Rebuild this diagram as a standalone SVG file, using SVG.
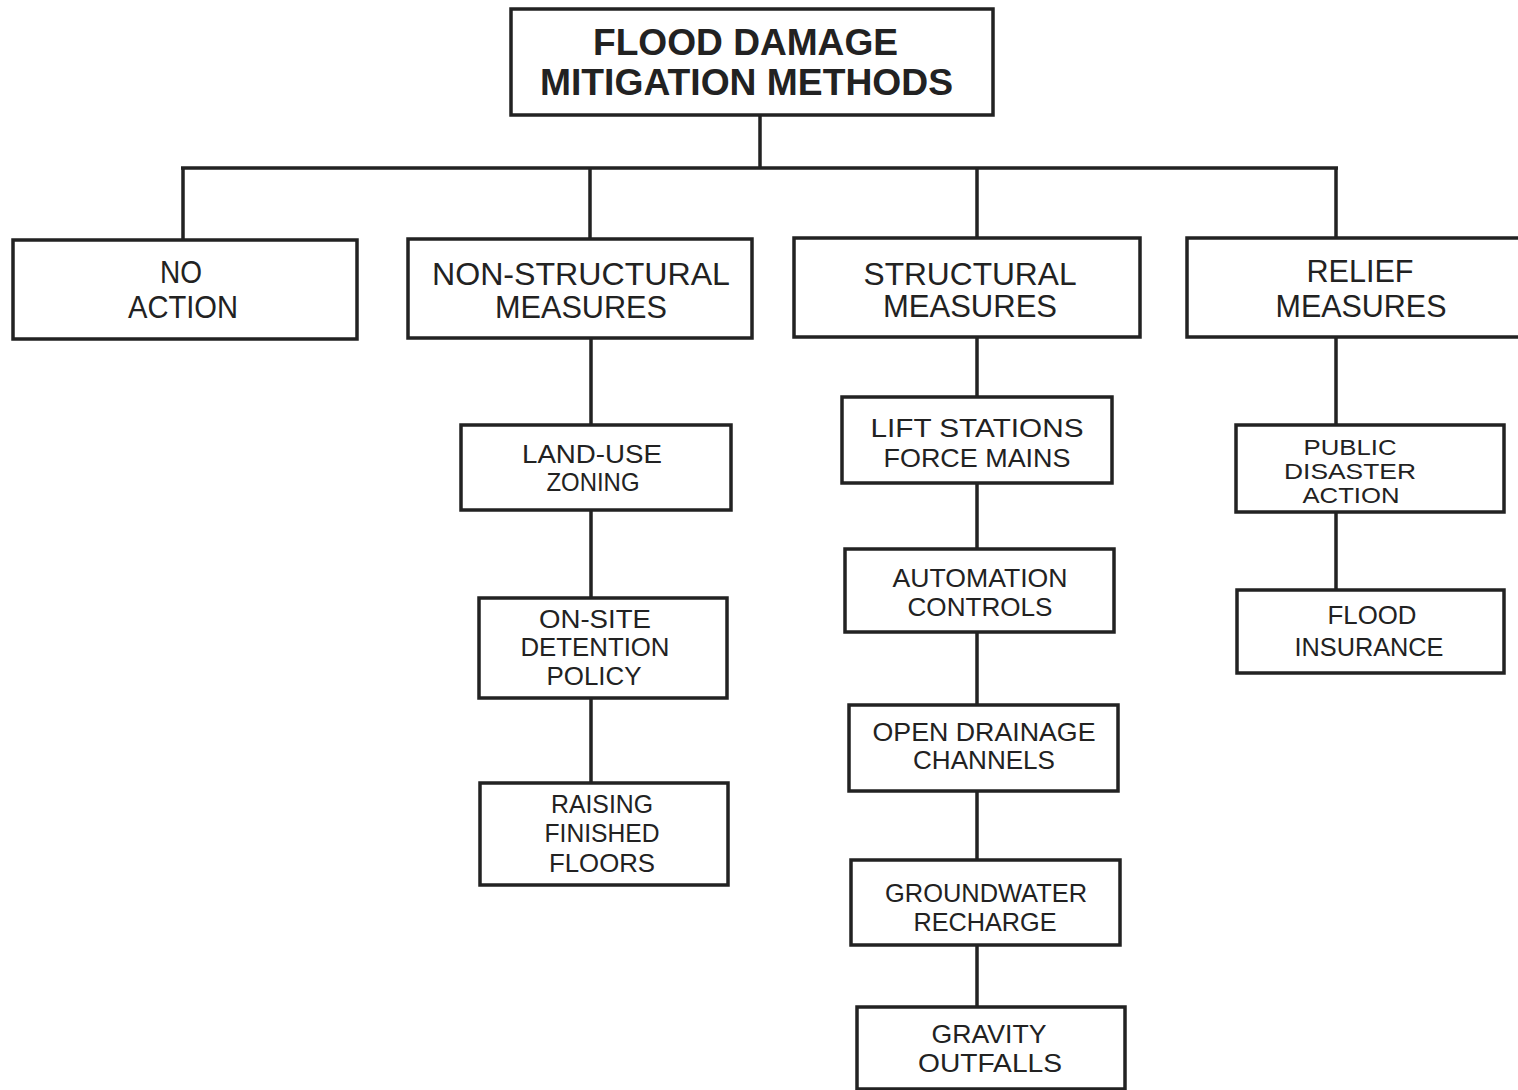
<svg xmlns="http://www.w3.org/2000/svg" width="1518" height="1090" viewBox="0 0 1518 1090">
<style>
.box{fill:#fff;stroke:#222;stroke-width:3.5}
.ln{fill:none;stroke:#222;stroke-width:3.5}
text{font-family:"Liberation Sans",Arial,sans-serif;fill:#222;text-anchor:middle}
.t1{font-size:31px}
.t2{font-size:26.5px}
.t3{font-size:22px}
.tt{font-size:37px;font-weight:bold}
</style>
<rect width="1518" height="1090" fill="#fff"/>
<g id="connectors">
<path class="ln" d="M760 115V168M181 168H1338M183 168V240M590 168V239M977 168V238M1336 168V238"/>
<path class="ln" d="M591 338V425M591 510V598M591 698V783"/>
<path class="ln" d="M977 337V397M977 483V549M977 632V705M977 791V860M977 945V1007"/>
<path class="ln" d="M1336 337V425M1336 500V590"/>
</g>
<g id="title">
<rect class="box" x="511" y="9" width="482" height="106"/>
<text class="tt" x="745.5" y="55" textLength="305" lengthAdjust="spacingAndGlyphs">FLOOD DAMAGE</text>
<text class="tt" x="746.5" y="95" textLength="413" lengthAdjust="spacingAndGlyphs">MITIGATION METHODS</text>
</g>
<g id="no-action">
<rect class="box" x="13" y="240" width="344" height="99"/>
<text class="t1" x="181" y="283" textLength="42" lengthAdjust="spacingAndGlyphs">NO</text>
<text class="t1" x="183" y="318" textLength="110" lengthAdjust="spacingAndGlyphs">ACTION</text>
</g>
<g id="non-structural">
<rect class="box" x="408" y="239" width="344" height="99"/>
<text class="t1" x="581" y="285" textLength="298" lengthAdjust="spacingAndGlyphs">NON-STRUCTURAL</text>
<text class="t1" x="581" y="318" textLength="172" lengthAdjust="spacingAndGlyphs">MEASURES</text>
</g>
<g id="structural">
<rect class="box" x="794" y="238" width="346" height="99"/>
<text class="t1" x="970" y="285" textLength="213" lengthAdjust="spacingAndGlyphs">STRUCTURAL</text>
<text class="t1" x="970" y="317" textLength="174" lengthAdjust="spacingAndGlyphs">MEASURES</text>
</g>
<g id="relief">
<rect class="box" x="1187" y="238" width="340" height="99"/>
<text class="t1" x="1360" y="282" textLength="107" lengthAdjust="spacingAndGlyphs">RELIEF</text>
<text class="t1" x="1361" y="317" textLength="171" lengthAdjust="spacingAndGlyphs">MEASURES</text>
</g>
<g id="land-use">
<rect class="box" x="461" y="425" width="270" height="85"/>
<text class="t2" x="592" y="463" textLength="140" lengthAdjust="spacingAndGlyphs">LAND-USE</text>
<text class="t2" x="593" y="491" textLength="93" lengthAdjust="spacingAndGlyphs">ZONING</text>
</g>
<g id="on-site">
<rect class="box" x="479" y="598" width="248" height="100"/>
<text class="t2" x="595" y="628" textLength="112" lengthAdjust="spacingAndGlyphs">ON-SITE</text>
<text class="t2" x="595" y="656" textLength="149" lengthAdjust="spacingAndGlyphs">DETENTION</text>
<text class="t2" x="594" y="685" textLength="95" lengthAdjust="spacingAndGlyphs">POLICY</text>
</g>
<g id="raising">
<rect class="box" x="480" y="783" width="248" height="102"/>
<text class="t2" x="602" y="813" textLength="102" lengthAdjust="spacingAndGlyphs">RAISING</text>
<text class="t2" x="602" y="842" textLength="115" lengthAdjust="spacingAndGlyphs">FINISHED</text>
<text class="t2" x="602" y="872" textLength="106" lengthAdjust="spacingAndGlyphs">FLOORS</text>
</g>
<g id="lift-stations">
<rect class="box" x="842" y="397" width="270" height="86"/>
<text class="t2" x="977" y="437" textLength="213" lengthAdjust="spacingAndGlyphs">LIFT STATIONS</text>
<text class="t2" x="977" y="467" textLength="187" lengthAdjust="spacingAndGlyphs">FORCE MAINS</text>
</g>
<g id="automation">
<rect class="box" x="845" y="549" width="269" height="83"/>
<text class="t2" x="980" y="587" textLength="175" lengthAdjust="spacingAndGlyphs">AUTOMATION</text>
<text class="t2" x="980" y="616" textLength="145" lengthAdjust="spacingAndGlyphs">CONTROLS</text>
</g>
<g id="open-drainage">
<rect class="box" x="849" y="705" width="269" height="86"/>
<text class="t2" x="984" y="741" textLength="223" lengthAdjust="spacingAndGlyphs">OPEN DRAINAGE</text>
<text class="t2" x="984" y="769" textLength="142" lengthAdjust="spacingAndGlyphs">CHANNELS</text>
</g>
<g id="groundwater">
<rect class="box" x="851" y="860" width="269" height="85"/>
<text class="t2" x="986" y="902" textLength="202" lengthAdjust="spacingAndGlyphs">GROUNDWATER</text>
<text class="t2" x="985" y="931" textLength="143" lengthAdjust="spacingAndGlyphs">RECHARGE</text>
</g>
<g id="gravity">
<rect class="box" x="857" y="1007" width="268" height="82"/>
<text class="t2" x="989" y="1043" textLength="115" lengthAdjust="spacingAndGlyphs">GRAVITY</text>
<text class="t2" x="990" y="1072" textLength="144" lengthAdjust="spacingAndGlyphs">OUTFALLS</text>
</g>
<g id="public-disaster">
<rect class="box" x="1236" y="425" width="268" height="87"/>
<text class="t3" x="1350" y="455" textLength="93" lengthAdjust="spacingAndGlyphs">PUBLIC</text>
<text class="t3" x="1350" y="479" textLength="132" lengthAdjust="spacingAndGlyphs">DISASTER</text>
<text class="t3" x="1351" y="503" textLength="97" lengthAdjust="spacingAndGlyphs">ACTION</text>
</g>
<g id="flood-insurance">
<rect class="box" x="1237" y="590" width="267" height="83"/>
<text class="t2" x="1372" y="624" textLength="89" lengthAdjust="spacingAndGlyphs">FLOOD</text>
<text class="t2" x="1369" y="656" textLength="149" lengthAdjust="spacingAndGlyphs">INSURANCE</text>
</g>
</svg>
